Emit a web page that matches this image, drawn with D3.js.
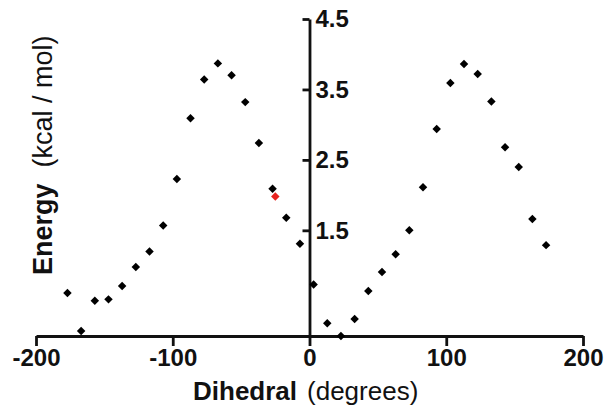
<!DOCTYPE html>
<html>
<head>
<meta charset="utf-8">
<script src="https://cdn.jsdelivr.net/npm/d3@7"></script>
<style>
  body { margin: 0; background: #fff; }
  text { font-family: "Liberation Sans", Arial, sans-serif; fill: #111; }
</style>
</head>
<body>
<script>
// dihedral scan
var angles = [-177, -167, -157, -147, -137, -127, -117, -107, -97, -87, -77, -67,
  -57, -47, -37, -27, -17, -7, 3, 13, 23, 33, 43, 53, 63, 73, 83, 93, 103, 113,
  123, 133, 143, 153, 163, 173];
var energies = [0.61, 0.07, 0.50, 0.52, 0.71, 0.98, 1.20, 1.57, 2.23, 3.09, 3.64, 3.87,
  3.70, 3.32, 2.74, 2.09, 1.68, 1.31, 0.73, 0.18, 0.0, 0.24, 0.64, 0.91, 1.16, 1.50,
  2.11, 2.94, 3.59, 3.86, 3.72, 3.33, 2.68, 2.40, 1.66, 1.29];

// the single highlighted point
var redAngle = [-25];
var redEnergy = [1.98];

var xTicks = [-200, -100, 0, 100, 200];
var yTicks = [1.5, 2.5, 3.5, 4.5];

var width = 605;
var height = 407;
var margin = { top: 19, right: 22, bottom: 71, left: 36 };

var svg = d3.select("body")
  .append("svg")
  .attr("width", width)
  .attr("height", height);

var x = d3.scaleLinear()
  .domain([-200, 200])
  .range([margin.left, width - margin.right]);

var y = d3.scaleLinear()
  .domain([0, 4.5])
  .range([height - margin.bottom, margin.top]);

// plain hyphen for negatives, like the original
var plain = function (d) { return String(d); };

// x axis along energy = 0
var xAxis = svg.append("g")
  .attr("transform", "translate(0," + y(0) + ")")
  .attr("font-size", 24)
  .call(d3.axisBottom(x).tickValues(xTicks).tickFormat(plain)
    .tickSize(10).tickSizeOuter(0).tickPadding(3));

xAxis.attr("font-size", 24);
xAxis.selectAll("text")
  .attr("font-size", 24)
  .attr("font-weight", "bold");

// y axis at dihedral = 0, labels on its right side
var yAxis = svg.append("g")
  .attr("transform", "translate(" + x(0) + ",0)")
  .call(d3.axisLeft(y).tickValues(yTicks).tickFormat(plain).tickSize(7).tickSizeOuter(0));

yAxis.attr("font-size", 24);
yAxis.selectAll("text")
  .attr("x", 6)
  .attr("text-anchor", "start")
  .attr("font-size", 24)
  .attr("font-weight", "bold");

svg.selectAll(".domain, .tick line")
  .attr("stroke", "#111")
  .attr("stroke-width", 2.8);

var diamond = d3.symbol().type(d3.symbolSquare).size(36);

svg.selectAll("path.pt")
  .data(angles)
  .enter()
  .append("path")
  .attr("class", "pt")
  .attr("d", diamond)
  .attr("fill", "#000")
  .attr("transform", function (d, i) {
    return "translate(" + x(d) + "," + y(energies[i]) + ") rotate(45)";
  });

svg.selectAll("path.red")
  .data(redAngle)
  .enter()
  .append("path")
  .attr("class", "red")
  .attr("d", diamond)
  .attr("fill", "#e8231f")
  .attr("transform", function (d, i) {
    return "translate(" + x(d) + "," + y(redEnergy[i]) + ") rotate(45)";
  });

// axis titles
var xTitle = svg.append("text")
  .attr("x", 193)
  .attr("y", 400)
  .style("font-size", "26px");
xTitle.append("tspan").style("font-weight", "bold").text("Dihedral");
xTitle.append("tspan").attr("dx", 10).text("(degrees)");

var yTitle = svg.append("text")
  .attr("transform", "translate(52,275) rotate(-90)")
  .style("font-size", "27px");
yTitle.append("tspan").style("font-weight", "bold").text("Energy");
yTitle.append("tspan").attr("dx", 16).text("(kcal / mol)");
</script>
</body>
</html>
